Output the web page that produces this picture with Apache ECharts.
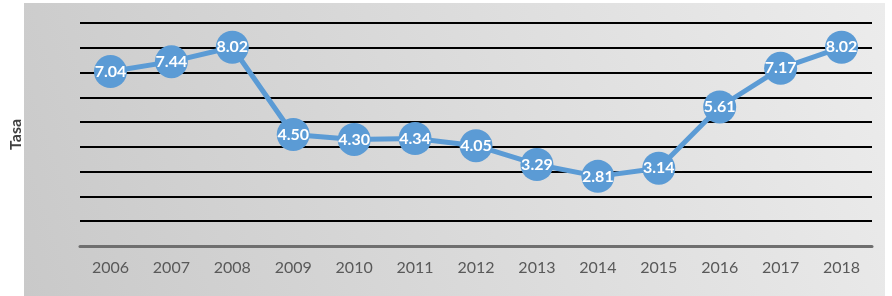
<!DOCTYPE html>
<html><head><meta charset="utf-8">
<script src="https://cdn.jsdelivr.net/npm/echarts@6/dist/echarts.min.js"></script>
<style>html,body{margin:0;padding:0;background:#fff}#c{width:892px;height:296px}</style>
</head><body><div id="c"></div>
<script>
const years = ['2006','2007','2008','2009','2010','2011','2012','2013','2014','2015','2016','2017','2018'];
const tasa = [7.04, 7.44, 8.02, 4.50, 4.30, 4.34, 4.05, 3.29, 2.81, 3.14, 5.61, 7.17, 8.02];
const chart = echarts.init(document.getElementById('c'));
chart.setOption({
  animation: false,
  graphic: [{
    type: 'rect', left: 24, top: 3, z: -10,
    shape: { width: 861, height: 293 },
    style: { fill: new echarts.graphic.LinearGradient(0, 1, 1, 0, [
      { offset: 0, color: '#c9c9c9' }, { offset: 1, color: '#ececec' }]) }
  }],
  grid: { left: 76, right: 20, top: 23, bottom: 50 },
  xAxis: {
    type: 'category', data: years, boundaryGap: true,
    axisLine: { lineStyle: { color: '#6f6f6f', width: 3 } },
    axisTick: { show: false },
    axisLabel: { color: '#595959', fontFamily: 'Lato', fontSize: 16, margin: 14 }
  },
  yAxis: {
    type: 'value', min: 0, max: 9, interval: 1,
    name: 'Tasa', nameLocation: 'middle', nameGap: 56,
    nameTextStyle: { color: '#404040', fontFamily: 'Lato', fontWeight: 'bold', fontSize: 16 },
    axisLabel: { show: false },
    axisLine: { show: false }, axisTick: { show: false },
    splitLine: { lineStyle: { color: '#000', width: 2 } }
  },
  series: [{
    type: 'line', data: tasa,
    symbol: 'circle', symbolSize: 33,
    lineStyle: { color: '#5b9bd5', width: 5 },
    itemStyle: { color: '#5b9bd5' },
    label: { show: true, position: 'inside', color: '#fff', fontWeight: 'bold',
      fontFamily: 'Lato', fontSize: 16, formatter: p => p.value.toFixed(2) }
  }]
});
</script></body></html>
